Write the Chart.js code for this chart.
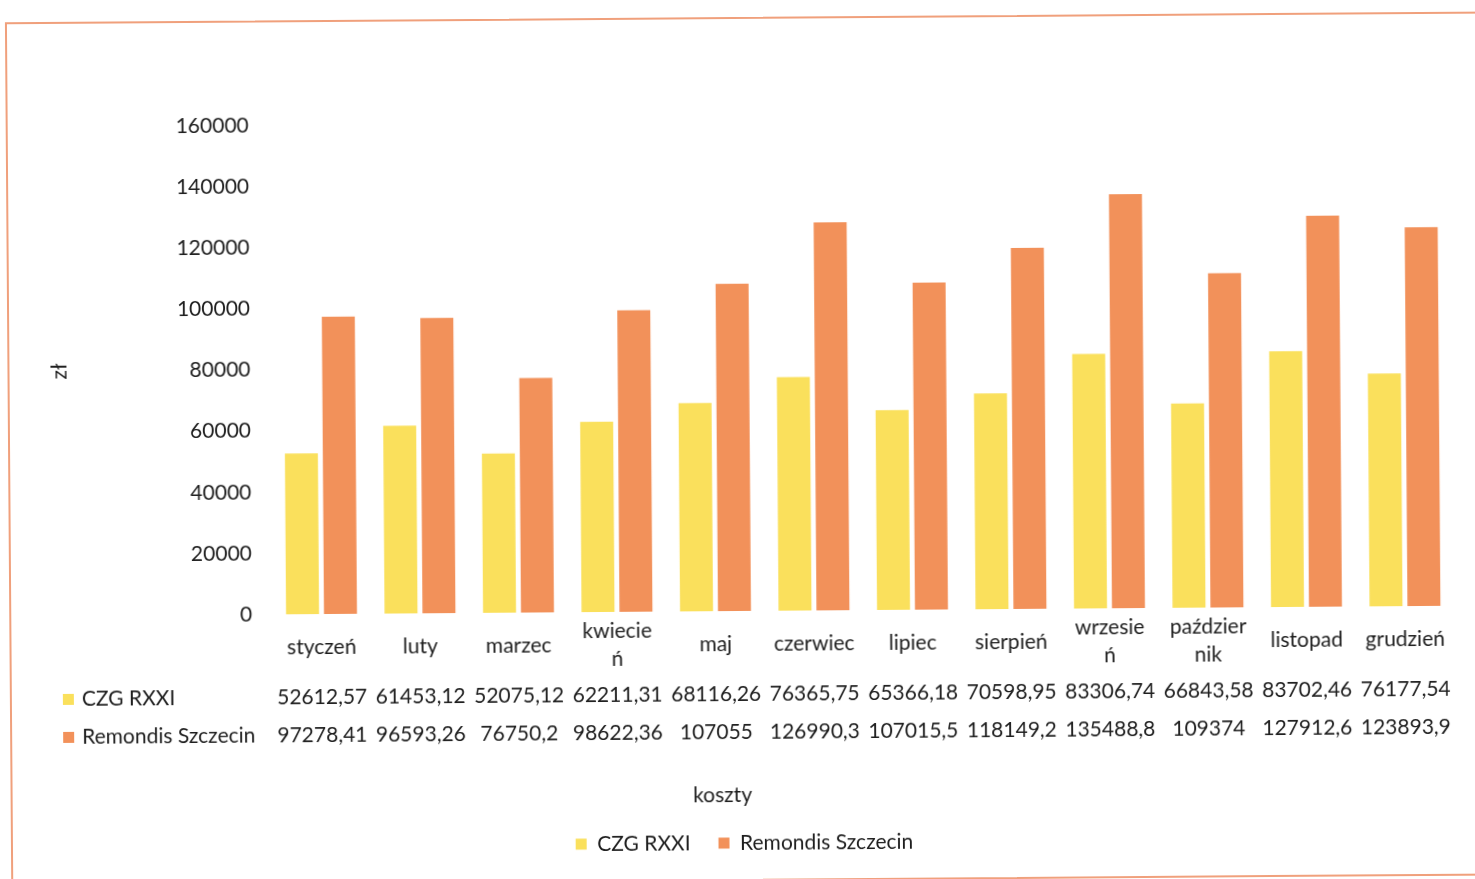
<!DOCTYPE html>
<html>
<head>
<meta charset="utf-8">
<script src="https://cdn.jsdelivr.net/npm/chart.js@4.4.1/dist/chart.umd.min.js"></script>
<style>
    html, body { margin: 0; padding: 0; background: #fff; overflow: hidden; }
    #wrap { position: absolute; left: 0; top: 0; width: 1475px; height: 879px; transform: rotate(-0.42deg); transform-origin: 737px 439px; }
    #frame { position: absolute; left: 8px; top: 17px; width: 1490px; height: 864px; border: 2px solid #F0A07C; box-sizing: border-box; }
    #chartBox { position: absolute; left: 0; top: 0; width: 1475px; height: 879px; }
</style>
</head>
<body>
<div id="wrap">
    <div id="frame"></div>
    <div id="chartBox"><canvas id="kosztyChart"></canvas></div>
</div>
<script>
// months (long names are wrapped like in the original table)
const months = ['styczeń', 'luty', 'marzec', ['kwiecie', 'ń'], 'maj', 'czerwiec', 'lipiec', 'sierpień', ['wrzesie', 'ń'], ['paździer', 'nik'], 'listopad', 'grudzień'];
const seriesNames = ['CZG RXXI', 'Remondis Szczecin'];
const czgValues = [52612.57, 61453.12, 52075.12, 62211.31, 68116.26, 76365.75, 65366.18, 70598.95, 83306.74, 66843.58, 83702.46, 76177.54];
const remondisValues = [97278.41, 96593.26, 76750.2, 98622.36, 107055, 126990.3, 107015.5, 118149.2, 135488.8, 109374, 127912.6, 123893.9];
const yMin = 0;
const yMax = 160000;
const yStep = 20000;
const xTitle = 'koszty';
const yTitle = 'zł';

const textColor = '#1e1e1e';
const fontFamily = 'Lato';
const colors = ['#FAE05C', '#F2915A'];

// polish number format: comma as decimal separator, no grouping
function plNumber(v) {
    return String(v).replace('.', ',');
}

// data table under the x axis + axis title, drawn like the excel one
const dataTablePlugin = {
    id: 'dataTable',
    afterDraw(chart) {
        const ctx = chart.ctx;
        const xScale = chart.scales.x;
        const rowOffsets = [83.5, 121.5];
        ctx.save();
        ctx.font = '21px ' + fontFamily;
        ctx.fillStyle = textColor;
        ctx.textBaseline = 'middle';
        chart.data.datasets.forEach(function (ds, i) {
            const y = xScale.top + rowOffsets[i];
            ctx.fillStyle = ds.backgroundColor;
            ctx.fillRect(61, y - 5.5, 11, 11);
            ctx.fillStyle = textColor;
            ctx.textAlign = 'left';
            ctx.fillText(ds.label, 80, y);
            ctx.textAlign = 'center';
            ds.data.forEach(function (v, j) {
                ctx.fillText(plNumber(v), xScale.getPixelForValue(j), y);
            });
        });
        ctx.textAlign = 'center';
        ctx.fillText(xTitle, 720, xScale.top + 184);
        ctx.restore();
    }
};

document.addEventListener('DOMContentLoaded', function () {
    Chart.defaults.font.family = fontFamily;
    Chart.defaults.color = textColor;

    const ctx = document.getElementById('kosztyChart').getContext('2d');
    new Chart(ctx, {
        type: 'bar',
        data: {
            labels: months,
            datasets: [{
                label: seriesNames[0],
                data: czgValues,
                backgroundColor: colors[0],
                categoryPercentage: 0.77,
                barPercentage: 0.87
            }, {
                label: seriesNames[1],
                data: remondisValues,
                backgroundColor: colors[1],
                categoryPercentage: 0.77,
                barPercentage: 0.87
            }]
        },
        options: {
            responsive: true,
            maintainAspectRatio: false,
            animation: false,
            layout: {
                padding: { left: 30, right: 22, top: 122, bottom: 15.5 }
            },
            plugins: {
                legend: {
                    position: 'bottom',
                    labels: {
                        boxWidth: 11,
                        boxHeight: 11,
                        padding: 28,
                        color: textColor,
                        font: { size: 21 }
                    }
                },
                tooltip: { enabled: false }
            },
            scales: {
                x: {
                    grid: { display: false, drawTicks: false },
                    border: { display: false },
                    ticks: {
                        padding: 19,
                        color: textColor,
                        maxRotation: 0,
                        autoSkip: false,
                        crossAlign: 'center',
                        font: { size: 21, lineHeight: 1.333 }
                    },
                    afterFit: function (scale) {
                        scale.height = 193.5; // room for the data table rows and the title
                    }
                },
                y: {
                    min: yMin,
                    max: yMax,
                    grid: { display: false, drawTicks: false },
                    border: { display: false },
                    ticks: {
                        stepSize: yStep,
                        padding: 20,
                        color: textColor,
                        font: { size: 21 },
                        callback: function (value) {
                            return String(value);
                        }
                    },
                    title: {
                        display: true,
                        text: yTitle,
                        color: textColor,
                        font: { size: 21 },
                        padding: { top: 17.4, bottom: 0 }
                    },
                    afterFit: function (scale) {
                        scale.width = 241;
                    }
                }
            }
        },
        plugins: [dataTablePlugin]
    });
});
</script>
</body>
</html>
